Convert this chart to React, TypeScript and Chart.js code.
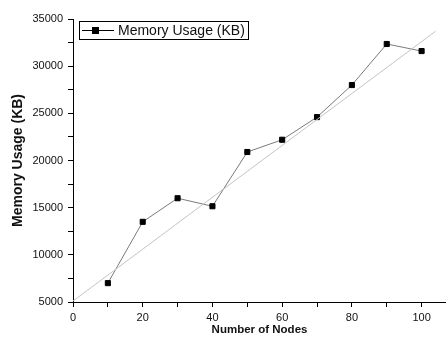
import React, { useEffect, useRef } from "react";
import { Chart, registerables } from "chart.js";

Chart.register(...registerables);

const nodes = [10, 20, 30, 40, 50, 60, 70, 80, 90, 100];
const memoryKB = [7000, 13500, 16000, 15150, 20900, 22200, 24600, 28000, 32350, 31600];
const fitX = [0, 104];
const fitY = [5100, 33700];
const seriesLabel = "Memory Usage (KB)";
const xTicks = [0, 10, 20, 30, 40, 50, 60, 70, 80, 90, 100];
const yTicks = [5000, 7500, 10000, 12500, 15000, 17500, 20000, 22500, 25000, 27500, 30000, 32500, 35000];

const FONT = "'Liberation Sans', Arial, sans-serif";

const legendPlugin = {
  id: "boxLegend",
  afterDraw(chart: any) {
    const ctx = chart.ctx;
    ctx.save();
    ctx.strokeStyle = "#000";
    ctx.lineWidth = 1;
    ctx.strokeRect(79.5, 21.5, 169, 18);
    ctx.beginPath();
    ctx.moveTo(82, 30.5);
    ctx.lineTo(114, 30.5);
    ctx.stroke();
    ctx.fillStyle = "#000";
    ctx.fillRect(92, 27, 7, 7);
    ctx.font = "14px " + FONT;
    ctx.textBaseline = "middle";
    ctx.textAlign = "left";
    ctx.fillStyle = "#111";
    ctx.fillText(seriesLabel, 118, 31);
    ctx.restore();
  },
};

export default function App() {
  const ref = useRef<HTMLCanvasElement>(null);
  useEffect(() => {
    document.body.style.margin = "0";
    const chart = new Chart(ref.current!, {
      type: "scatter",
      data: {
        datasets: [
          {
            label: "fit",
            data: fitX.map((x, i) => ({ x, y: fitY[i] })),
            showLine: true,
            borderColor: "#c4c4c4",
            borderWidth: 1,
            pointRadius: 0,
          },
          {
            label: seriesLabel,
            data: nodes.map((x, i) => ({ x, y: memoryKB[i] })),
            showLine: true,
            borderColor: "#7a7a7a",
            borderWidth: 1,
            pointStyle: "rect",
            pointRadius: 3.6,
            backgroundColor: "#000",
            pointBorderColor: "#000",
          },
        ],
      },
      options: {
        responsive: false,
        animation: false,
        layout: { autoPadding: false, padding: { top: 19, right: 0, bottom: 0, left: 0 } },
        plugins: { legend: { display: false }, tooltip: { enabled: false } },
        scales: {
          x: {
            type: "linear",
            min: 0,
            max: 107,
            afterBuildTicks: (s: any) => {
              s.ticks = xTicks.map((v) => ({ value: v }));
            },
            afterFit: (s: any) => {
              s.height = 40;
            },
            grid: { drawOnChartArea: false, tickLength: 5, tickColor: "#000" },
            border: { color: "#000", width: 1 },
            ticks: {
              padding: 4,
              color: "#111",
              font: { family: FONT, size: 11 },
              maxRotation: 0,
              autoSkip: false,
              callback: (v: any) => (Number(v) % 20 === 0 ? String(v) : ""),
            },
            title: {
              display: true,
              text: "Number of Nodes",
              color: "#111",
              font: { family: FONT, size: 11.5, weight: "bold" },
              padding: { top: 0, bottom: 5 },
            },
          },
          y: {
            type: "linear",
            min: 5000,
            max: 35000,
            afterBuildTicks: (s: any) => {
              s.ticks = yTicks.map((v) => ({ value: v }));
            },
            afterFit: (s: any) => {
              s.width = 73;
            },
            grid: { drawOnChartArea: false, tickLength: 5, tickColor: "#000" },
            border: { color: "#000", width: 1 },
            ticks: {
              padding: 5,
              color: "#111",
              font: { family: FONT, size: 11 },
              autoSkip: false,
              callback: (v: any) => (Number(v) % 5000 === 0 ? String(v) : ""),
            },
            title: {
              display: true,
              text: "Memory Usage (KB)",
              color: "#111",
              font: { family: FONT, size: 14, weight: "bold" },
              padding: { top: 10, bottom: 0 },
            },
          },
        },
      },
      plugins: [legendPlugin],
    } as any);
    return () => chart.destroy();
  }, []);
  return (
    <div style={{ position: "absolute", left: 0, top: 0, width: 446, height: 342, background: "#fff" }}>
      <canvas ref={ref} width={446} height={342} />
    </div>
  );
}
